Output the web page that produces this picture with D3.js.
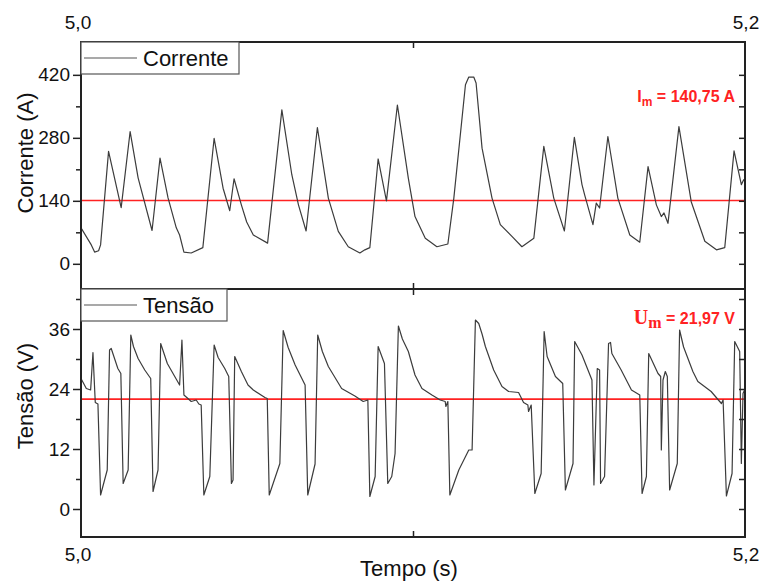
<!DOCTYPE html>
<html>
<head>
<meta charset="utf-8">
<script src="https://cdn.jsdelivr.net/npm/d3@7"></script>
<style>
  body { margin: 0; background: #fff; }
  svg { display: block; font-family: "Liberation Sans", Arial, sans-serif; }
</style>
</head>
<body>
<div id="viz"></div>
<script>
// tempo (s) e corrente (A)
const currentTime = [5.0000, 5.0031, 5.0041, 5.0053, 5.0059, 5.0083, 5.0121, 5.0148, 5.0172, 5.0214,
  5.0238, 5.0262, 5.0287, 5.0297, 5.0310, 5.0332, 5.0367, 5.0401, 5.0428, 5.0448,
  5.0461, 5.0483, 5.0499, 5.0519, 5.0562, 5.0605, 5.0635, 5.0655, 5.0678, 5.0712,
  5.0745, 5.0775, 5.0805, 5.0840, 5.0855, 5.0870, 5.0895, 5.0920, 5.0953, 5.0986,
  5.1006, 5.1037, 5.1072, 5.1105, 5.1123, 5.1158, 5.1168, 5.1183, 5.1190, 5.1208,
  5.1238, 5.1263, 5.1298, 5.1328, 5.1364, 5.1394, 5.1424, 5.1456, 5.1486, 5.1509,
  5.1517, 5.1542, 5.1552, 5.1562, 5.1587, 5.1617, 5.1653, 5.1683, 5.1708, 5.1733,
  5.1748, 5.1756, 5.1768, 5.1801, 5.1838, 5.1879, 5.1914, 5.1939, 5.1967, 5.1989,
  5.1996, 5.2000];
const currentValues = [80, 42, 26, 29, 42, 250, 125, 294, 191, 74,
  235, 147, 80, 64, 26, 24, 36, 279, 168, 118,
  189, 131, 93, 64, 46, 342, 198, 131, 73, 303,
  146, 72, 38, 24, 31, 36, 233, 140, 353, 190,
  105, 57, 38, 44, 146, 398, 415, 415, 402, 257,
  146, 87, 61, 38, 57, 261, 146, 73, 281, 176,
  153, 87, 135, 124, 283, 146, 64, 48, 216, 131,
  105, 113, 90, 305, 138, 50, 31, 36, 251, 176,
  187, 184];

// tempo (s) e tensão (V)
const voltageTime = [5.0000, 5.0016, 5.0029, 5.0036, 5.0043, 5.0051, 5.0059, 5.0079, 5.0086, 5.0091,
  5.0111, 5.0120, 5.0127, 5.0142, 5.0150, 5.0158, 5.0172, 5.0192, 5.0210, 5.0217, 5.0232,
  5.0240, 5.0260, 5.0297, 5.0304, 5.0310, 5.0322, 5.0332, 5.0347, 5.0355, 5.0362,
  5.0370, 5.0388, 5.0401, 5.0413, 5.0433, 5.0445, 5.0453, 5.0458, 5.0463, 5.0483, 5.0503,
  5.0519, 5.0554, 5.0561, 5.0567, 5.0599, 5.0609, 5.0624, 5.0645, 5.0675, 5.0683, 5.0705,
  5.0713, 5.0727, 5.0745, 5.0785, 5.0825, 5.0850, 5.0864, 5.0870, 5.0886, 5.0895, 5.0914,
  5.0924, 5.0936, 5.0946, 5.0956, 5.0968, 5.0986, 5.1006, 5.1027, 5.1057, 5.1082, 5.1097,
  5.1099, 5.1105, 5.1111, 5.1138, 5.1168, 5.1178, 5.1188, 5.1198, 5.1208, 5.1218, 5.1243,
  5.1268, 5.1288, 5.1318, 5.1333, 5.1346, 5.1348, 5.1356, 5.1367, 5.1386, 5.1395,
  5.1404, 5.1429, 5.1451, 5.1459, 5.1482, 5.1487, 5.1509, 5.1539, 5.1545, 5.1555,
  5.1562, 5.1565, 5.1577, 5.1589, 5.1595, 5.1599, 5.1627, 5.1658, 5.1683, 5.1690,
  5.1703, 5.1710, 5.1738, 5.1746, 5.1748, 5.1753, 5.1760, 5.1766, 5.1773, 5.1796,
  5.1803, 5.1815, 5.1843, 5.1858, 5.1898, 5.1929, 5.1934, 5.1944, 5.1961, 5.1969, 5.1984,
  5.1989, 5.1994, 5.2000];
const voltageValues = [26.1, 24.1, 23.8, 31.3, 21.3, 21.0, 2.8, 7.8, 31.8, 32.1,
  28.1, 27.1, 5.1, 7.8, 34.8, 32.5, 30.1, 27.8, 26.1, 3.5, 7.8,
  33.1, 29.1, 24.8, 33.8, 22.8, 22.1, 21.5, 21.8, 21.0, 20.8,
  2.8, 6.5, 32.8, 30.3, 28.1, 26.5, 5.1, 5.8, 30.5, 27.5, 24.8,
  23.8, 22.3, 22.1, 2.8, 9.1, 35.7, 32.3, 28.8, 24.8, 2.8, 9.0,
  34.8, 31.5, 28.5, 24.1, 22.6, 21.5, 21.8, 2.5, 6.5, 32.5, 29.1,
  5.1, 6.5, 11.1, 36.6, 34.0, 31.5, 26.8, 24.1, 22.8, 21.8, 21.5,
  20.5, 21.5, 2.8, 7.8, 11.8, 11.8, 37.8, 37.1, 35.0, 32.5, 27.8,
  24.5, 23.5, 23.3, 21.3, 20.8, 19.5, 20.8, 3.1, 7.1, 35.5,
  30.5, 26.5, 25.1, 3.8, 9.1, 33.5, 30.8, 25.8, 4.8, 28.1,
  27.8, 5.1, 6.5, 33.1, 33.3, 31.1, 27.8, 23.8, 22.8, 3.1,
  6.5, 31.1, 27.1, 26.5, 11.8, 25.8, 27.5, 26.5, 3.8, 9.1,
  35.8, 32.4, 27.5, 25.5, 23.5, 21.1, 21.8, 2.6, 7.1, 33.5, 31.5,
  9.1, 23.1, 24.0];

const xTicks = [5.0, 5.2];
const xTickLabels = ["5,0", "5,2"];
const currentTicks = [0, 140, 280, 420];
const currentMinor = [70, 210, 350];
const voltageTicks = [0, 12, 24, 36];
const voltageMinor = [6, 18, 30, 42];
const meanCurrent = 140.75;
const meanVoltage = 21.97;

const W = 762, H = 581;
const left = 81, right = 745;
const top1 = 42, bot1 = 289, top2 = 289, bot2 = 537;

const svg = d3.select("#viz").append("svg")
    .attr("width", W)
    .attr("height", H);

const xScale = d3.scaleLinear().domain([5.0, 5.2]).range([left, right]);
const yI = d3.scaleLinear().domain([-56, 493]).range([bot1, top1]);
const yU = d3.scaleLinear().domain([-5.6, 44]).range([bot2, top2]);

const defs = svg.append("defs");
defs.append("clipPath").attr("id", "clip1")
  .append("rect").attr("x", left).attr("y", top1).attr("width", right - left).attr("height", bot1 - top1);
defs.append("clipPath").attr("id", "clip2")
  .append("rect").attr("x", left).attr("y", top2).attr("width", right - left).attr("height", bot2 - top2);

const lineColor = "#3c3c3c";
const red = "#ff2222";

function drawPanel(times, values, yScale, ticks, minor, mean, clipId, top, bot) {
  const g = svg.append("g");
  const pts = times.map((t, i) => [t, values[i]]);

  g.append("line")
      .attr("x1", left).attr("x2", right)
      .attr("y1", yScale(mean)).attr("y2", yScale(mean))
      .attr("stroke", red).attr("stroke-width", 1.6);

  g.append("path")
      .datum(pts)
      .attr("clip-path", `url(#${clipId})`)
      .attr("fill", "none")
      .attr("stroke", lineColor)
      .attr("stroke-width", 1.2)
      .attr("stroke-linejoin", "round")
      .attr("d", d3.line().x(d => xScale(d[0])).y(d => yScale(d[1])));

  // eixo esquerdo
  const yAxis = d3.axisLeft(yScale).tickValues(ticks).tickSize(8).tickSizeOuter(0).tickPadding(3)
      .tickFormat(d3.format("d"));
  const ga = g.append("g").attr("transform", `translate(${left},0)`).call(yAxis);
  ga.select(".domain").remove();
  ga.selectAll("text").attr("font-size", 19).attr("font-family", "Liberation Sans, Arial").attr("fill", "#111");
  ga.selectAll("line").attr("stroke", "#222").attr("stroke-width", 1.5);
  const gm = g.append("g").attr("transform", `translate(${left},0)`)
      .call(d3.axisLeft(yScale).tickValues(minor).tickSize(5).tickFormat(""));
  gm.select(".domain").remove();
  gm.selectAll("line").attr("stroke", "#222").attr("stroke-width", 1.5);

  // eixo direito (ticks para dentro)
  const gr = g.append("g").attr("transform", `translate(${right},0)`)
      .call(d3.axisLeft(yScale).tickValues(ticks.concat(minor)).tickSize(6).tickFormat(""));
  gr.select(".domain").remove();
  gr.selectAll("line").attr("stroke", "#222").attr("stroke-width", 1.5);

  // tick do meio em x
  const mid = [5.1];
  const gb = g.append("g").attr("transform", `translate(0,${bot})`)
      .call(d3.axisTop(xScale).tickValues(mid).tickSize(6).tickFormat(""));
  gb.select(".domain").remove();
  gb.selectAll("line").attr("stroke", "#222").attr("stroke-width", 1.5);
  const gt = g.append("g").attr("transform", `translate(0,${top})`)
      .call(d3.axisBottom(xScale).tickValues(mid).tickSize(6).tickFormat(""));
  gt.select(".domain").remove();
  gt.selectAll("line").attr("stroke", "#222").attr("stroke-width", 1.5);

  // moldura
  g.append("rect")
      .attr("x", left).attr("y", top)
      .attr("width", right - left).attr("height", bot - top)
      .attr("fill", "none").attr("stroke", "#222").attr("stroke-width", 2);
  return g;
}

drawPanel(currentTime, currentValues, yI, currentTicks, currentMinor, meanCurrent, "clip1", top1, bot1);
drawPanel(voltageTime, voltageValues, yU, voltageTicks, voltageMinor, meanVoltage, "clip2", top2, bot2);

// legendas
function legend(y0, label, w) {
  const g = svg.append("g");
  g.append("rect").attr("x", left).attr("y", y0).attr("width", w).attr("height", 32)
      .attr("fill", "#fff").attr("stroke", "#555").attr("stroke-width", 1.2);
  g.append("line").attr("x1", left + 3).attr("x2", left + 56).attr("y1", y0 + 16).attr("y2", y0 + 16)
      .attr("stroke", "#555").attr("stroke-width", 1.2);
  g.append("text").attr("x", left + 62).attr("y", y0 + 24).attr("font-size", 22)
      .attr("fill", "#111").text(label);
}
legend(top1, "Corrente", 158);
legend(top2, "Tensão", 146);

// rótulos do eixo x (topo e base)
svg.selectAll(".xtop").data(xTicks).enter().append("text")
    .attr("x", (d, i) => xScale(d) + (i === 0 ? -3 : 1))
    .attr("y", 29)
    .attr("text-anchor", "middle").attr("font-size", 19).attr("fill", "#111")
    .text((d, i) => xTickLabels[i]);
svg.selectAll(".xbot").data(xTicks).enter().append("text")
    .attr("x", (d, i) => xScale(d) + (i === 0 ? -3 : 1))
    .attr("y", 561)
    .attr("text-anchor", "middle").attr("font-size", 19).attr("fill", "#111")
    .text((d, i) => xTickLabels[i]);

svg.append("text").attr("x", 409).attr("y", 576).attr("text-anchor", "middle")
    .attr("font-size", 22).attr("fill", "#111").text("Tempo (s)");

svg.append("text").attr("transform", "translate(33,153) rotate(-90)").attr("text-anchor", "middle")
    .attr("font-size", 22).attr("fill", "#111").text("Corrente (A)");
svg.append("text").attr("transform", "translate(33,396) rotate(-90)").attr("text-anchor", "middle")
    .attr("font-size", 22).attr("fill", "#111").text("Tensão (V)");

// anotações das médias
const im = svg.append("text").attr("x", 735).attr("y", 102).attr("text-anchor", "end")
    .attr("font-size", 16).attr("font-weight", "bold").attr("fill", red);
im.append("tspan").text("I");
im.append("tspan").attr("dy", 4).attr("font-size", 12).text("m");
im.append("tspan").attr("dy", -4).text(" = " + d3.format(".2f")(meanCurrent).replace(".", ",") + " A");

const um = svg.append("text").attr("x", 735).attr("y", 324).attr("text-anchor", "end")
    .attr("font-weight", "bold").attr("fill", red);
um.append("tspan").attr("font-family", "Liberation Serif, Times New Roman, serif").attr("font-size", 20).text("U");
um.append("tspan").attr("font-family", "Liberation Serif, Times New Roman, serif").attr("font-size", 16).attr("dy", 4).text("m");
um.append("tspan").attr("font-size", 16).attr("dy", -4).text("  = " + d3.format(".2f")(meanVoltage).replace(".", ",") + " V");
</script>
</body>
</html>
